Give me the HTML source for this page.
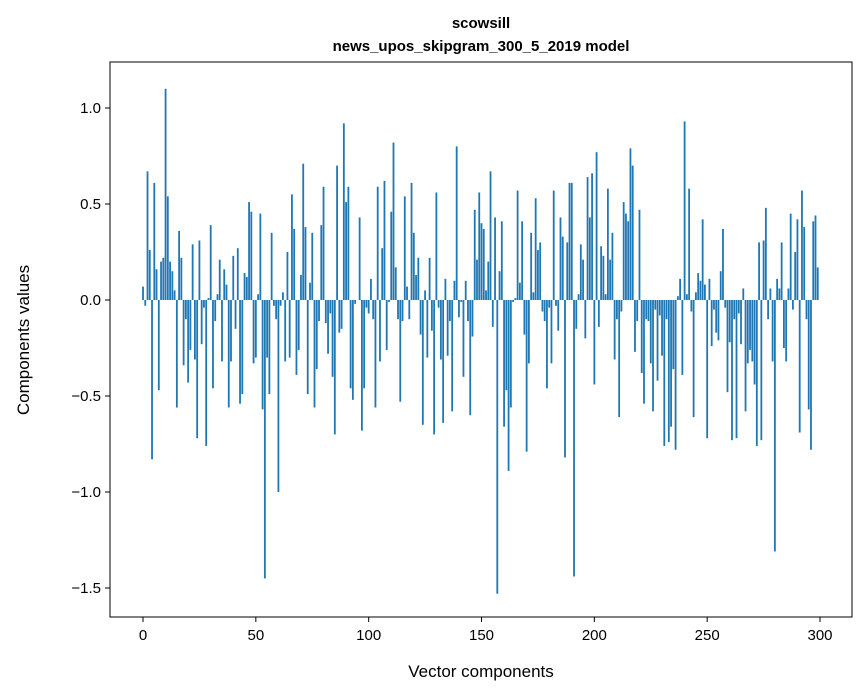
<!DOCTYPE html>
<html><head><meta charset="utf-8"><style>
body{margin:0;background:#fff;}
svg{display:block;font-family:"Liberation Sans",sans-serif;}
</style></head><body>
<svg id="chart" width="867" height="696" viewBox="0 0 867 696" xmlns="http://www.w3.org/2000/svg">
<rect width="867" height="696" fill="#fff"/>
<text x="481" y="28" text-anchor="middle" font-size="15" font-weight="bold">scowsill</text>
<text x="481" y="51" text-anchor="middle" font-size="15" font-weight="bold">news_upos_skipgram_300_5_2019 model</text>
<g id="bars"></g>
<rect x="110" y="62" width="742" height="555" fill="none" stroke="#000" stroke-width="1"/>
<g id="xticks"></g>
<g id="yticks"></g>
<text x="481" y="677" text-anchor="middle" font-size="17">Vector components</text>
<text transform="translate(29,340) rotate(-90)" text-anchor="middle" font-size="17">Components values</text>
</svg>
<script>
const values = [
0.07,-0.03,0.67,0.26,-0.83,0.61,0.16,-0.47,0.2,0.22,1.1,0.54,0.2,0.15,0.05,-0.56,0.36,0.22,-0.34,-0.1,
-0.43,-0.26,0.29,-0.31,-0.72,0.31,-0.23,-0.04,-0.76,0.01,0.39,-0.46,-0.11,0.03,0.21,-0.32,0.16,0.08,-0.56,-0.32,
0.23,-0.15,0.27,-0.54,-0.49,0.14,0.12,0.51,0.46,-0.33,-0.3,0.03,0.45,-0.57,-1.45,-0.3,-0.49,0.35,-0.03,-0.1,
-1.0,-0.03,0.04,-0.32,0.25,-0.3,0.55,0.37,-0.39,-0.26,0.13,0.71,0.38,-0.49,0.09,0.35,-0.56,-0.36,-0.11,0.39,
0.59,-0.12,-0.28,-0.07,-0.4,-0.7,0.7,-0.17,-0.15,0.92,0.51,0.59,-0.46,-0.52,-0.02,0.0,0.43,-0.68,-0.46,-0.04,
-0.07,0.11,-0.1,-0.56,0.59,-0.32,0.27,0.62,-0.26,-0.01,0.46,0.82,0.17,-0.1,-0.53,-0.11,0.54,0.07,-0.1,0.61,
0.35,0.13,0.22,-0.18,-0.65,0.05,-0.3,0.22,-0.16,-0.7,0.56,-0.04,-0.31,-0.64,0.11,-0.29,-0.11,-0.58,0.1,0.8,
-0.09,-0.01,-0.4,0.1,-0.11,-0.6,-0.19,0.47,0.21,0.56,0.4,0.37,0.05,0.2,0.67,-0.14,0.43,-1.53,0.15,0.41,
-0.66,-0.47,-0.89,-0.56,-0.01,0.01,0.57,0.09,0.41,-0.18,-0.79,-0.33,0.35,0.04,0.53,0.26,0.3,-0.06,-0.11,-0.46,
-0.04,-0.33,0.57,-0.03,-0.16,0.43,0.33,-0.82,0.3,0.61,0.61,-1.44,-0.15,0.03,0.29,0.21,-0.2,0.64,0.43,0.66,
-0.44,0.77,-0.14,0.28,0.23,0.03,0.58,0.21,0.35,-0.31,-0.1,-0.61,-0.06,0.51,0.45,0.41,0.79,0.7,-0.27,-0.11,
0.47,-0.38,-0.54,-0.1,-0.11,-0.33,-0.58,-0.05,-0.42,-0.08,-0.29,-0.76,-0.1,-0.74,-0.66,-0.36,-0.78,0.02,0.11,-0.39,
0.93,0.03,0.58,-0.06,-0.61,0.04,0.14,0.1,0.42,0.08,-0.72,0.11,-0.24,-0.05,-0.17,-0.21,0.15,0.37,-0.04,-0.48,
-0.22,-0.73,-0.1,-0.72,-0.07,-0.23,0.06,-0.58,-0.33,-0.26,-0.32,-0.44,-0.76,0.3,-0.73,0.31,0.48,-0.1,0.06,-0.32,
-1.31,0.11,0.06,0.3,-0.25,-0.32,0.06,0.45,-0.05,0.25,0.42,-0.69,0.57,0.38,-0.1,-0.57,-0.78,0.41,0.44,0.17
];
const xTicks = [0,50,100,150,200,250,300];
const yTicks = [1.0,0.5,0.0,-0.5,-1.0,-1.5];
const yTickLabels = ["1.0","0.5","0.0","\u22120.5","\u22121.0","\u22121.5"];

const NS="http://www.w3.org/2000/svg";
function xs(v){return 143 + v*2.2567;}
function ys(v){return 300 - v*192;}
const bars=document.getElementById('bars');
values.forEach((v,i)=>{
  const r=document.createElementNS(NS,'rect');
  
  
  const y0=ys(0), y1=ys(v);
  r.setAttribute('x',xs(i-0.4));
  r.setAttribute('width',2.2567*0.8);
  r.setAttribute('y',Math.min(y0,y1));
  r.setAttribute('height',Math.max(Math.abs(y1-y0),0.01));
  r.setAttribute('fill','#1f77b4');
  bars.appendChild(r);
});
const xg=document.getElementById('xticks');
xTicks.forEach(t=>{
  const l=document.createElementNS(NS,'line');
  
  
  l.setAttribute('x1',xs(t));l.setAttribute('x2',xs(t));
  l.setAttribute('y1',617);l.setAttribute('y2',622);
  l.setAttribute('stroke','#000');
  xg.appendChild(l);
  const tx=document.createElementNS(NS,'text');
  
  
  tx.setAttribute('x',xs(t));tx.setAttribute('y',640);
  tx.setAttribute('text-anchor','middle');tx.setAttribute('font-size','15');
  tx.textContent=t;
  xg.appendChild(tx);
});
const yg=document.getElementById('yticks');
yTicks.forEach((t,i)=>{
  const l=document.createElementNS(NS,'line');
  
  
  l.setAttribute('x1',105);l.setAttribute('x2',110);
  l.setAttribute('y1',ys(t));l.setAttribute('y2',ys(t));
  l.setAttribute('stroke','#000');
  yg.appendChild(l);
  const tx=document.createElementNS(NS,'text');
  
  
  tx.setAttribute('x',101);tx.setAttribute('y',ys(t)+5);
  tx.setAttribute('text-anchor','end');tx.setAttribute('font-size','15');
  tx.textContent=yTickLabels[i];
  yg.appendChild(tx);
});
</script>
</body></html>
